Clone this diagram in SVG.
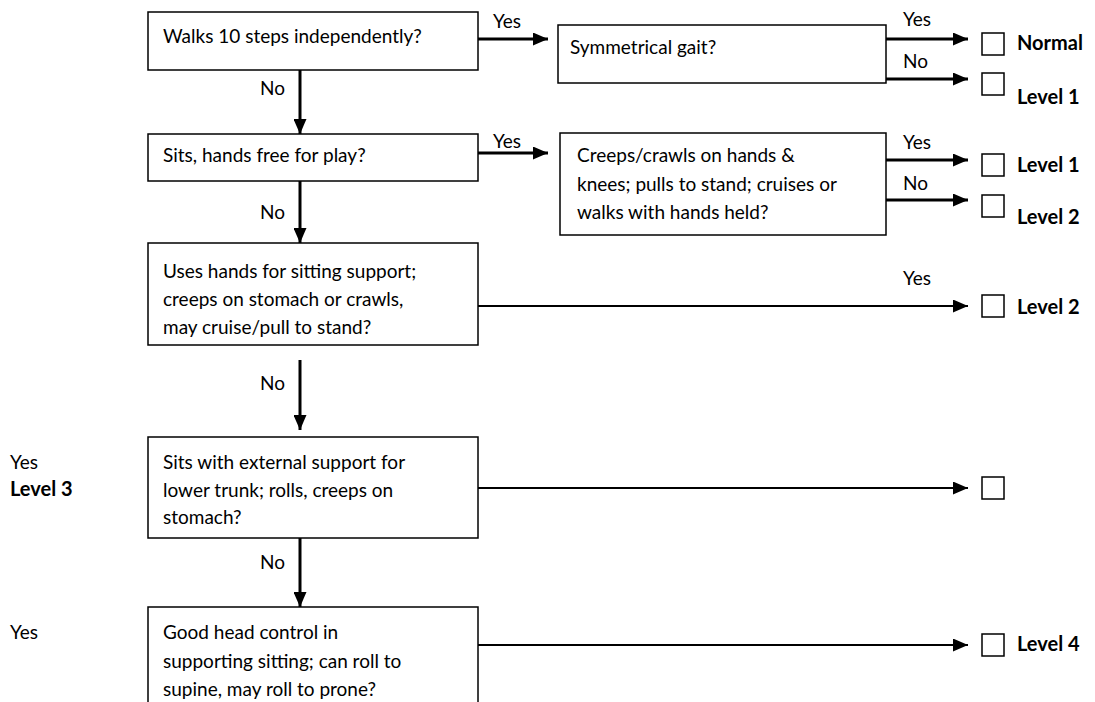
<svg xmlns="http://www.w3.org/2000/svg" width="1095" height="702" viewBox="0 0 1095 702">
<style>
.box{fill:#fff;stroke:#000;stroke-width:1.5}
.sq{fill:#fff;stroke:#000;stroke-width:1.5}
.t{font-family:Lato,"Liberation Sans",sans-serif;font-size:19px;fill:#000}
.b{font-family:Lato,"Liberation Sans",sans-serif;font-size:20px;font-weight:bold;fill:#000}
.thick{stroke:#000;stroke-width:3;fill:none}
.thin{stroke:#000;stroke-width:2.2;fill:none}
</style>
<defs>
<marker id="ah" markerUnits="userSpaceOnUse" markerWidth="15" markerHeight="13" refX="15" refY="6.5" orient="auto">
<path d="M0,0 L15,6.5 L0,13 Z" fill="#000"/>
</marker>
</defs>
<rect width="1095" height="702" fill="#fff"/>
<g id="connectors">
<line class="thick" x1="478" y1="39" x2="548" y2="39" marker-end="url(#ah)"/>
<line class="thick" x1="300" y1="70" x2="300" y2="134" marker-end="url(#ah)"/>
<line class="thick" x1="886" y1="39" x2="968" y2="39" marker-end="url(#ah)"/>
<line class="thick" x1="886" y1="79" x2="968" y2="79" marker-end="url(#ah)"/>
<line class="thick" x1="478" y1="153" x2="548" y2="153" marker-end="url(#ah)"/>
<line class="thick" x1="300" y1="181" x2="300" y2="243" marker-end="url(#ah)"/>
<line class="thick" x1="886" y1="160" x2="968" y2="160" marker-end="url(#ah)"/>
<line class="thick" x1="886" y1="200" x2="968" y2="200" marker-end="url(#ah)"/>
<line class="thin" x1="478" y1="306" x2="968" y2="306" marker-end="url(#ah)"/>
<line class="thick" x1="300" y1="360" x2="300" y2="430" marker-end="url(#ah)"/>
<line class="thin" x1="478" y1="488" x2="968" y2="488" marker-end="url(#ah)"/>
<line class="thick" x1="300" y1="538" x2="300" y2="607" marker-end="url(#ah)"/>
<line class="thin" x1="478" y1="645" x2="968" y2="645" marker-end="url(#ah)"/>
<text class="t" x="493" y="28">Yes</text>
<text class="t" x="260" y="95">No</text>
<text class="t" x="903" y="26">Yes</text>
<text class="t" x="903" y="68">No</text>
<text class="t" x="493" y="148">Yes</text>
<text class="t" x="260" y="219">No</text>
<text class="t" x="903" y="149">Yes</text>
<text class="t" x="903" y="190">No</text>
<text class="t" x="903" y="285">Yes</text>
<text class="t" x="260" y="390">No</text>
<text class="t" x="260" y="569">No</text>
</g>
<g id="n1"><rect class="box" x="148" y="12" width="330" height="58"/><text class="t" x="163" y="43">Walks 10 steps independently?</text></g>
<g id="n2"><rect class="box" x="558" y="25" width="328" height="58"/><text class="t" x="570" y="54">Symmetrical gait?</text></g>
<g id="n3"><rect class="box" x="148" y="134" width="330" height="47"/><text class="t" x="163" y="162">Sits, hands free for play?</text></g>
<g id="n4"><rect class="box" x="560" y="133" width="326" height="102"/><text class="t" x="577" y="162">Creeps/crawls on hands &amp;</text><text class="t" x="577" y="191">knees; pulls to stand; cruises or</text><text class="t" x="577" y="219">walks with hands held?</text></g>
<g id="n5"><rect class="box" x="148" y="243" width="330" height="102"/><text class="t" x="163" y="278">Uses hands for sitting support;</text><text class="t" x="163" y="306">creeps on stomach or crawls,</text><text class="t" x="163" y="334">may cruise/pull to stand?</text></g>
<g id="n6"><rect class="box" x="148" y="437" width="330" height="101"/><text class="t" x="163" y="469">Sits with external support for</text><text class="t" x="163" y="497">lower trunk; rolls, creeps on</text><text class="t" x="163" y="524">stomach?</text></g>
<g id="n7"><rect class="box" x="148" y="607" width="330" height="110"/><text class="t" x="163" y="639">Good head control in</text><text class="t" x="163" y="668">supporting sitting; can roll to</text><text class="t" x="163" y="696">supine, may roll to prone?</text></g>
<g id="o1"><rect class="sq" x="982" y="33" width="22" height="22"/><text class="b" x="1017" y="50">Normal</text></g>
<g id="o2"><rect class="sq" x="982" y="73" width="22" height="22"/><text class="b" x="1017" y="104">Level 1</text></g>
<g id="o3"><rect class="sq" x="982" y="154" width="22" height="22"/><text class="b" x="1017" y="172">Level 1</text></g>
<g id="o4"><rect class="sq" x="982" y="195" width="22" height="22"/><text class="b" x="1017" y="224">Level 2</text></g>
<g id="o5"><rect class="sq" x="982" y="295" width="22" height="22"/><text class="b" x="1017" y="314">Level 2</text></g>
<g id="o6"><rect class="sq" x="982" y="477" width="22" height="22"/></g>
<g id="o7"><rect class="sq" x="982" y="634" width="22" height="22"/><text class="b" x="1017" y="651">Level 4</text></g>
<g id="left"><text class="t" x="10" y="469">Yes</text><text class="b" x="10" y="496">Level 3</text><text class="t" x="10" y="639">Yes</text></g>
</svg>
